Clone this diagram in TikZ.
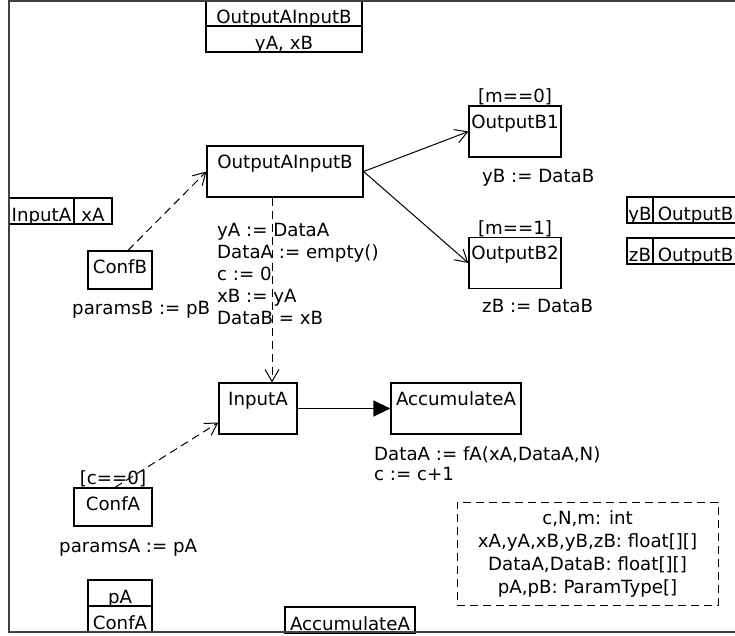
\documentclass[tikz,border=0pt]{standalone}
\usepackage{fontspec}
\setmainfont{DejaVu Sans}
\usetikzlibrary{positioning,arrows.meta}

\begin{document}
\begin{tikzpicture}[x=1pt,y=-1pt,
  every node/.style={inner sep=0pt, font=\fontsize{18.2pt}{22pt}\selectfont},
  act/.style={draw, line width=1.2pt, inner xsep=2pt, inner ysep=0pt, text height=22pt, text depth=#1},
  act/.default=29pt,
  cell/.style={draw, line width=1.2pt, minimum height=26pt, text height=23pt, text depth=3pt},
  flow/.style={line width=1pt, dash pattern=on 8pt off 5pt, -{Straight Barb[length=12pt,width=14pt]}},
  tr/.style={line width=1pt, -{Straight Barb[length=12pt,width=14pt]}},
  txt/.style={anchor=base west}]
\useasboundingbox (0,0) rectangle (735,635);
\clip (0,0) rectangle (735,635);
\node[cell, minimum width=156pt] (hdA) at (284,13.5) {OutputAInputB};
\node[cell, minimum width=156pt] (hdB) at (284,39) {yA, xB};
\node[cell, minimum width=65pt] (inA) at (41.5,211) {InputA};
\node[cell, minimum width=38pt] (inAx) at (93,211) {xA};
\node[cell, minimum width=26pt] (yBcell) at (640,210) {yB};
\node[cell, minimum width=84pt, anchor=west] (outBy) at (653,210) {OutputB};
\node[cell, minimum width=26pt] (zBcell) at (640,251) {zB};
\node[cell, minimum width=84pt, anchor=west] (outBz) at (653,251) {OutputB};
\node[cell, minimum width=64pt] (pA) at (120,593) {pA};
\node[cell, minimum width=64pt] (pAconf) at (120,619) {ConfA};
\node[cell, minimum width=130pt] (accOut) at (350,620) {AccumulateA};
\node[act, minimum width=156pt] (oaib) at (285,171.5) {OutputAInputB};
\node[act=16pt, minimum width=64pt] (confB) at (120,270) {ConfB};
\node[act, minimum width=78pt] (inputA) at (258,408.5) {InputA};
\node[act, minimum width=130pt] (accA) at (456,408.5) {AccumulateA};
\node[act, minimum width=92pt] (ob1) at (515,131.5) {OutputB1};
\node[act, minimum width=92pt] (ob2) at (515,263) {OutputB2};
\node[act=16pt, minimum width=78pt] (confA) at (113,507) {ConfA};
\node[above=0pt of ob1] (g1) {[m==0]};
\node[above=0pt of ob2] (g2) {[m==1]};
\node[above=0pt of confA] (g3) {[c==0]};
\node[txt] (effB1) at (482,182) {yB := DataB};
\node[txt] (effB2) at (482,312) {zB := DataB};
\node[txt] (effConfB) at (72,314) {paramsB := pB};
\node[txt, align=left] (effOAIB) at (217,324) {yA := DataA\\DataA := empty()\\c := 0\\xB := yA\\DataB = xB};
\node[txt, align=left, font=\fontsize{18.2pt}{20pt}\selectfont] (effAcc) at (374,480) {DataA := fA(xA,DataA,N)\\c := c+1};
\node[txt] (effConfA) at (59,552) {paramsA := pA};
\node[draw, dash pattern=on 8pt off 5pt, line width=1pt, minimum width=261pt, minimum height=103pt, align=center, font=\fontsize{18.2pt}{23pt}\selectfont] (decl) at (587.5,553.5) {c,N,m: int\\xA,yA,xB,yB,zB: float[][]\\DataA,DataB: float[][]\\pA,pB: ParamType[]};
\draw[flow] ([xshift=-13pt]oaib.south) -- ([xshift=14pt]inputA.north);
\draw[flow] ([xshift=8pt]confB.north) -- (oaib.west);
\draw[flow] ([xshift=2pt]confA.north) -- ([yshift=-14pt]inputA.west);
\draw[tr] (oaib.east) -- (ob1.west);
\draw[tr] (oaib.east) -- (ob2.west);
\draw[line width=1.2pt, -{Triangle[length=17pt,width=16pt]}] (inputA.east) -- (accA.west);
\draw[line width=2pt, black!75] (745,632) -- (9,632) -- (9,1) -- (745,1);
\end{tikzpicture}
\end{document}
